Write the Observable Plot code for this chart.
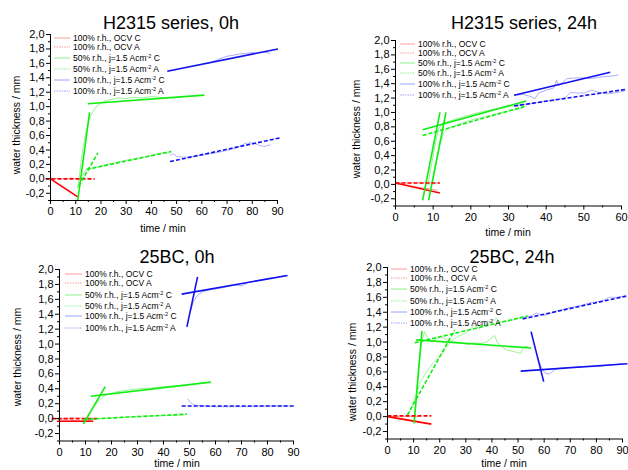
<!DOCTYPE html>
<html><head><meta charset="utf-8">
<script src="https://cdn.jsdelivr.net/npm/d3@7"></script>
<script src="https://cdn.jsdelivr.net/npm/@observablehq/plot@0.6"></script>
<style>
body{margin:0;background:#fff;font-family:"Liberation Sans",Arial,sans-serif;}
#root{position:relative;width:628px;height:470px;overflow:hidden;background:#fff;}
.t{position:absolute;transform:translate(-50%,-50%);white-space:nowrap;color:#000;}
.title{font-size:18px;}
.lab{font-size:10.5px;}
.ylab{transform:translate(-50%,-50%) rotate(-90deg);}
.leg{position:absolute;font-size:8.5px;white-space:nowrap;line-height:1;transform:translateY(-50%);color:#000;}
.leg sup{font-size:5.5px;vertical-align:3px;line-height:0;}
.panel{position:absolute;}
.panel svg{overflow:visible;}
</style>
</head><body><div id="root"></div>
<script>
// ---------- data ----------
const panelTitles = ["H2315 series, 0h", "H2315 series, 24h", "25BC, 0h", "25BC, 24h"];
const seriesLabels = [
  "100% r.h., OCV C",
  "100% r.h., OCV A",
  "50% r.h., j=1.5 Acm<sup>-2</sup> C",
  "50% r.h., j=1.5 Acm<sup>-2</sup> A",
  "100% r.h., j=1.5 Acm<sup>-2</sup> C",
  "100% r.h., j=1.5 Acm<sup>-2</sup> A"
];
const xAxisLabel = "time / min";
const yAxisLabel = "water thickness / mm";
const xMaxes = [90, 60, 90, 90];
const yDomain = [-0.3, 2.0];
const yMajorTicks = [-0.2, 0, 0.2, 0.4, 0.6, 0.8, 1.0, 1.2, 1.4, 1.6, 1.8, 2.0];
const yMinorTicks = [-0.3, -0.1, 0.1, 0.3, 0.5, 0.7, 0.9, 1.1, 1.3, 1.5, 1.7, 1.9];

// fitted lines: [series, t0, y0, t1, y1]
const fitsH0 = [
  [0, 0, 0, 10.8, -0.25],
  [1, -2, 0.0, 17.5, 0.0],
  [2, 10.8, -0.3, 15.5, 0.92],
  [2, 14.8, 1.04, 61, 1.16],
  [3, 11.2, -0.1, 18.8, 0.36],
  [3, 14.3, 0.13, 47.9, 0.38],
  [4, 46.3, 1.49, 90.2, 1.80],
  [5, 47.4, 0.24, 91.3, 0.57]
];
const fitsH24 = [
  [0, 0, 0.02, 11.8, -0.12],
  [1, 0, 0.02, 11.8, 0.02],
  [2, 7.2, -0.22, 11.8, 1.0],
  [2, 8.8, -0.22, 13.4, 1.0],
  [2, 7.2, 0.76, 34.7, 1.16],
  [3, 7.2, 0.68, 34.7, 1.09],
  [4, 31.5, 1.24, 57, 1.56],
  [5, 31.5, 1.09, 61.1, 1.32]
];
const fitsB0 = [
  [0, -1, -0.035, 13, -0.035],
  [1, -3, 0.0, 14.4, 0.0],
  [2, 9.2, -0.07, 17.6, 0.43],
  [2, 12, 0.30, 58.2, 0.49],
  [3, 9.2, -0.01, 49, 0.06],
  [4, 49, 1.23, 53.1, 1.90],
  [4, 47, 1.67, 87.7, 1.92],
  [5, 47, 0.17, 90.6, 0.17]
];
const fitsB24 = [
  [0, 0, 0, 16.8, -0.10],
  [1, 0, 0.01, 16.8, 0.01],
  [2, 10.2, -0.09, 13.2, 1.15],
  [2, 11, 1.03, 55, 0.92],
  [3, 7.6, 0.02, 25.7, 1.16],
  [3, 10.4, 0.99, 53.7, 1.35],
  [4, 55, 1.14, 59.8, 0.47],
  [4, 51, 0.61, 91.9, 0.71],
  [5, 51.8, 1.31, 91.9, 1.62]
];

// measured traces: [series, t, y]
const rawH0 = [
  ...[[0,0],[3,-0.07],[6,-0.14],[9,-0.21],[10.5,-0.24]].map(d=>[0,...d]),
  ...[[0,0.01],[4,0.0],[8,0.01],[12,0.0]].map(d=>[1,...d]),
  ...[[10.8,-0.12],[11.5,0.05],[12.2,0.25],[13,0.45],[14,0.64],[15,0.78],[16,0.88],[17.5,0.97],[19,1.03],[21,1.07],[24,1.1],[27,1.12],[30,1.11],[33,1.13],[36,1.12],[40,1.14],[43,1.13],[46,1.12],[48,1.13]].map(d=>[2,...d]),
  ...[[10.8,-0.12],[11.5,-0.05],[12.5,0.02],[13.5,0.1],[14.5,0.13],[17,0.15],[20,0.18],[25,0.22],[30,0.26],[35,0.29],[40,0.32],[44,0.35],[47,0.36],[48,0.38]].map(d=>[3,...d]),
  ...[[64,1.62],[67,1.66],[70,1.70],[72,1.71],[75,1.73],[78,1.74],[80,1.75],[82,1.74],[84,1.76],[86,1.75],[87,1.73]].map(d=>[4,...d]),
  ...[[47.5,0.33],[48.5,0.35],[50,0.31],[53,0.3],[57,0.31],[62,0.34],[67,0.37],[72,0.41],[75,0.45],[77,0.49],[79,0.5],[81,0.49],[83,0.46],[85,0.45],[87,0.47]].map(d=>[5,...d])
];
const rawH24 = [
  ...[[0,0.01],[3,-0.01],[6,-0.04],[9,-0.06],[11,-0.08]].map(d=>[0,...d]),
  ...[[0,0.02],[5,0.02],[11,0.02]].map(d=>[1,...d]),
  ...[[8.6,0.0],[9.5,0.25],[10.5,0.55],[11.5,0.78],[12.5,0.85],[15,0.89],[18,0.94],[20,0.97],[23,1.01],[26,1.04],[30,1.08],[34,1.12]].map(d=>[2,...d]),
  ...[[9.8,0.0],[10.8,0.3],[11.8,0.55],[12.8,0.72],[14,0.78],[16,0.82],[19,0.88],[22,0.92],[26,0.97],[30,1.02],[34,1.06]].map(d=>[3,...d]),
  ...[[31.5,1.24],[34,1.25],[36,1.22],[37,1.19],[38,1.27],[40,1.31],[42,1.34],[42.8,1.45],[43.2,1.37],[44,1.40],[45.5,1.47],[48,1.48],[50,1.48],[52,1.47],[54,1.49],[56,1.5],[58,1.51],[59,1.52]].map(d=>[4,...d]),
  ...[[31.5,1.09],[34,1.11],[37,1.13],[40,1.16],[43,1.18],[45,1.2],[46.5,1.28],[48,1.27],[50,1.27],[52,1.31],[54,1.28],[56,1.26],[58,1.27],[60,1.29],[61,1.3]].map(d=>[5,...d])
];
const rawB0 = [
  ...[[0,-0.02],[4,-0.02],[8,-0.03],[12,-0.02]].map(d=>[0,...d]),
  ...[[0,0.0],[6,0.01],[12,0.0]].map(d=>[1,...d]),
  ...[[9.5,-0.05],[11,0.05],[13,0.15],[15,0.24],[17,0.3],[19,0.33],[22,0.36],[26,0.38],[30,0.4],[35,0.41],[40,0.43],[45,0.44],[48,0.45]].map(d=>[2,...d]),
  ...[[10,-0.01],[15,0.0],[20,0.01],[30,0.03],[40,0.04],[48,0.05]].map(d=>[3,...d]),
  ...[[50.5,1.45],[51.5,1.57],[53,1.65],[55,1.70],[58,1.73],[62,1.75],[66,1.78],[68,1.79],[70,1.78],[73,1.83],[77,1.86],[80,1.88],[84,1.90],[87,1.92]].map(d=>[4,...d]),
  ...[[49.5,0.26],[50.5,0.21],[52,0.18],[55,0.17],[60,0.16],[70,0.16],[80,0.17],[88,0.17]].map(d=>[5,...d])
];
const rawB24 = [
  ...[[0,0],[4,-0.02],[8,-0.05],[12,-0.07]].map(d=>[0,...d]),
  ...[[0,0.0],[6,0.0],[12,0.0]].map(d=>[1,...d]),
  ...[[10.3,-0.05],[11,0.3],[12,0.7],[13,1.0],[14.2,1.14],[15.5,1.05],[16.8,1.0],[18.5,1.04],[20.6,1.07],[23,1.02],[25.7,1.0],[28,0.99],[30.8,0.97],[33,0.99],[35.9,0.98],[38,1.0],[41,1.09],[42,1.0],[43.5,0.94],[46,0.89],[48.6,0.87],[51,0.85],[52.2,0.94],[53.7,0.94]].map(d=>[2,...d]),
  ...[[7.6,0.0],[9,0.1],[11,0.3],[12.5,0.45],[14.2,0.56],[17,0.7],[20.6,0.83],[23,0.95],[25.7,1.05],[28,1.09],[30.8,1.14],[33.3,1.23],[35,1.18],[37,1.22],[39.7,1.27],[41.6,1.32],[43,1.27],[46,1.28],[48.6,1.3],[51,1.32],[53.7,1.34]].map(d=>[3,...d]),
  ...[[57,0.85],[58.5,0.7],[59.5,0.62],[60.5,0.58],[62,0.57],[63.6,0.62],[66,0.65],[70,0.66],[75,0.67],[80,0.67],[85,0.69],[90,0.71]].map(d=>[4,...d]),
  ...[[52,1.33],[55,1.35],[57,1.39],[58.5,1.37],[60,1.36],[62,1.38],[65,1.42],[70,1.46],[75,1.5],[78,1.53],[82,1.55],[85,1.6],[88,1.6],[91,1.62]].map(d=>[5,...d])
];

// ---------- styles & layout ----------
const fitColors = ["#ff0000", "#ff0000", "#10ee10", "#10ee10", "#1010f0", "#1010f0"];
const rawColors = ["#ff9a9a", "#ff9a9a", "#8cf08c", "#8cf08c", "#a0a0ff", "#a0a0ff"];
const allFits = [fitsH0, fitsH24, fitsB0, fitsB24];
const allRaw = [rawH0, rawH24, rawB0, rawB24];
const boxes = [
  {left:0,   top:0,   ml:50, mr:37, mt:34, mb:35,   title:[171,23], xl:[163,228], yl:[16,125],  leg:{x0:54,x1:70,tx:73,rows:[38,47,58,69,80,91]}},
  {left:314, top:0,   ml:81, mr:7,  mt:40, mb:29.5, title:[524,23], xl:[508,232], yl:[356,129], leg:{x0:400,x1:415,tx:418,rows:[44,53,63,73,84,95]}},
  {left:0,   top:235, ml:59, mr:21, mt:34, mb:29.5, title:[177,257], xl:[177,463], yl:[17,357], leg:{x0:65,x1:82,tx:85,rows:[274,283,295,306,316,328]}},
  {left:314, top:235, ml:73, mr:6,  mt:32, mb:31.5, title:[512,257], xl:[504,463], yl:[352,372], leg:{x0:391,x1:407,tx:410,rows:[269,278,289,301,312,323]}}
];

const root = document.getElementById("root");
const fmt = d => d3.format(".1f")(d).replace(".", ",").replace("\u2212", "-");

function addText(cls, txt, x, y) {
  const el = document.createElement("div");
  el.className = "t " + cls;
  el.textContent = txt;
  el.style.left = x + "px"; el.style.top = y + "px";
  root.appendChild(el);
}

boxes.forEach((b, i) => {
  const xMax = xMaxes[i];
  const xMajor = d3.range(0, xMax + 1, 10);
  const xMinor = d3.range(5, xMax, 10);
  const fits = allFits[i], raw = allRaw[i];
  const isC = s => s % 2 === 0;
  const chart = Plot.plot({
    width: 314, height: 235,
    marginLeft: b.ml, marginRight: b.mr, marginTop: b.mt, marginBottom: b.mb,
    x: {domain: [0, xMax]},
    y: {domain: yDomain},
    color: {type: "identity"},
    style: {fontFamily: "'Liberation Sans', Arial, sans-serif", fontSize: "11px", background: "transparent", overflow: "visible"},
    marks: [
      Plot.line(raw.filter(d => isC(d[0])), {x: d => d[1], y: d => d[2], z: d => d[0], stroke: d => rawColors[d[0]], strokeWidth: 0.9}),
      Plot.line(raw.filter(d => !isC(d[0])), {x: d => d[1], y: d => d[2], z: d => d[0], stroke: d => rawColors[d[0]], strokeWidth: 0.9, strokeDasharray: "1.5,1"}),
      Plot.link(fits.filter(d => isC(d[0])), {x1: d => d[1], y1: d => d[2], x2: d => d[3], y2: d => d[4], stroke: d => fitColors[d[0]], strokeWidth: 1.6}),
      Plot.link(fits.filter(d => !isC(d[0])), {x1: d => d[1], y1: d => d[2], x2: d => d[3], y2: d => d[4], stroke: d => fitColors[d[0]], strokeWidth: 1.6, strokeDasharray: "4,2"}),
      Plot.ruleX([0], {stroke: "#000", strokeWidth: 1}),
      Plot.ruleY([yDomain[0]], {stroke: "#000", strokeWidth: 1}),
      Plot.axisY({ticks: yMajorTicks, tickSize: 4, tickPadding: 2, tickFormat: fmt, fontSize: 11, label: null, stroke: "#000"}),
      Plot.axisY({ticks: yMinorTicks, tickSize: 2, tickFormat: () => "", label: null}),
      Plot.axisX({ticks: xMajor, tickSize: 4, tickPadding: 3, tickFormat: d => String(d), fontSize: 11, label: null}),
      Plot.axisX({ticks: xMinor, tickSize: 2, tickFormat: () => "", label: null})
    ]
  });
  const wrap = document.createElement("div");
  wrap.className = "panel";
  wrap.style.left = b.left + "px"; wrap.style.top = b.top + "px";
  wrap.appendChild(chart);
  root.appendChild(wrap);

  addText("title", panelTitles[i], b.title[0], b.title[1]);
  addText("lab", xAxisLabel, b.xl[0], b.xl[1]);
  addText("lab ylab", yAxisLabel, b.yl[0], b.yl[1]);

  // legend
  seriesLabels.forEach((lab, s) => {
    const y = b.leg.rows[s];
    const svgNS = "http://www.w3.org/2000/svg";
    const sv = document.createElementNS(svgNS, "svg");
    sv.setAttribute("width", b.leg.x1 - b.leg.x0);
    sv.setAttribute("height", 4);
    sv.style.position = "absolute";
    sv.style.left = b.leg.x0 + "px"; sv.style.top = (y - 2) + "px";
    const ln = document.createElementNS(svgNS, "line");
    ln.setAttribute("x1", 0); ln.setAttribute("x2", b.leg.x1 - b.leg.x0);
    ln.setAttribute("y1", 2); ln.setAttribute("y2", 2);
    ln.setAttribute("stroke", rawColors[s]); ln.setAttribute("stroke-width", 1);
    if (s % 2 === 1) ln.setAttribute("stroke-dasharray", "1.5,1");
    sv.appendChild(ln);
    root.appendChild(sv);
    const el = document.createElement("div");
    el.className = "leg";
    el.innerHTML = lab;
    el.style.left = b.leg.tx + "px"; el.style.top = y + "px";
    root.appendChild(el);
  });
});
</script>
</body></html>
